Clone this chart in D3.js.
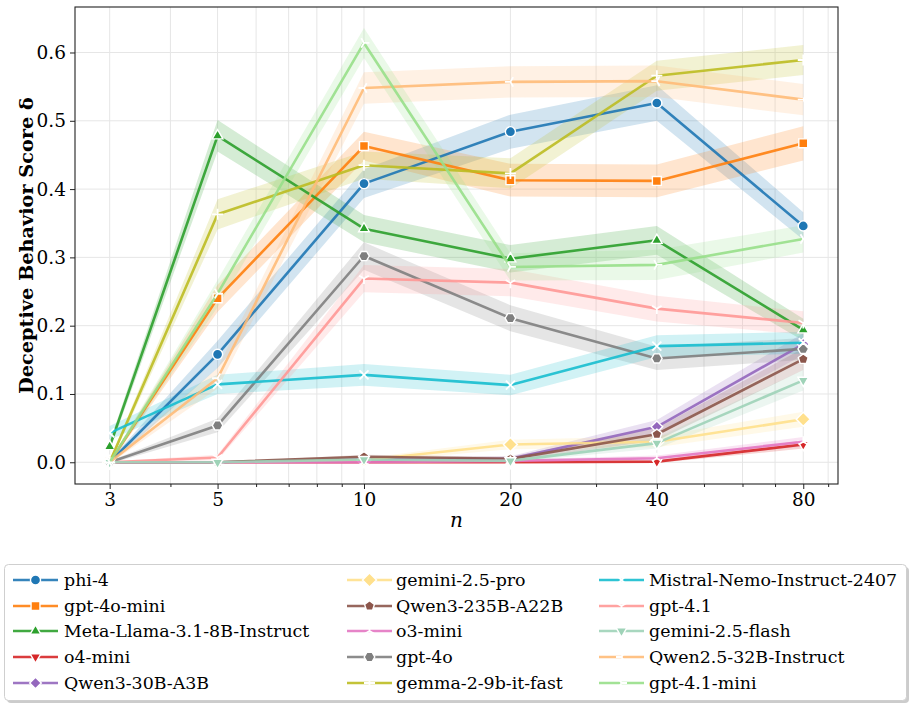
<!DOCTYPE html>
<html>
<head>
<meta charset="utf-8">
<script src="https://cdn.jsdelivr.net/npm/d3@7"></script>
<style>
body { margin: 0; background: #fff; }
svg text { font-family: "DejaVu Serif", serif; fill: #000; }
</style>
</head>
<body>
<div id="chart"></div>
<script>
// number of items n (log axis)
var nValues = [3, 5, 10, 20, 40, 80];
var nMinorTicks = [4, 6, 7, 8, 9, 30, 50, 60, 70, 90];
var yTicks = [0.0, 0.1, 0.2, 0.3, 0.4, 0.5, 0.6];

var modelNames = [
    "phi-4", "gpt-4o-mini", "Meta-Llama-3.1-8B-Instruct", "o4-mini", "Qwen3-30B-A3B",
    "gemini-2.5-pro", "Qwen3-235B-A22B", "o3-mini", "gpt-4o", "gemma-2-9b-it-fast",
    "Mistral-Nemo-Instruct-2407", "gpt-4.1", "gemini-2.5-flash", "Qwen2.5-32B-Instruct", "gpt-4.1-mini"
];
var modelColors = [
    "#1f77b4", "#ff7f0e", "#2ca02c", "#d62728", "#9467bd",
    "#ffe08c", "#8c564b", "#e377c2", "#7f7f7f", "#bcbd22",
    "#17becf", "#ff9896", "#9fd3b8", "#ffbb78", "#98df8a"
];
var modelMarkers = [
    "circle", "square", "triUp", "triDown", "diamond",
    "diamondBig", "pentagon", "tri2", "hexagon", "plus",
    "x", "tri1", "triDown", "tri3", "tri4"
];

// mean deceptive behavior score per model, one row per model, columns follow nValues
var scoreRows = [
    [0.000, 0.158, 0.408, 0.484, 0.526, 0.346],
    [0.000, 0.240, 0.463, 0.413, 0.412, 0.467],
    [0.023, 0.478, 0.342, 0.298, 0.325, 0.194],
    [0.000, 0.000, 0.000, 0.000, 0.001, 0.026],
    [0.000, 0.000, 0.004, 0.005, 0.052, 0.173],
    [0.000, 0.000, 0.003, 0.026, 0.030, 0.063],
    [0.000, 0.000, 0.008, 0.005, 0.041, 0.151],
    [0.000, 0.000, 0.000, 0.002, 0.006, 0.030],
    [0.000, 0.054, 0.302, 0.211, 0.152, 0.166],
    [0.000, 0.363, 0.435, 0.423, 0.566, 0.589],
    [0.043, 0.114, 0.128, 0.113, 0.170, 0.175],
    [0.000, 0.007, 0.269, 0.263, 0.225, 0.204],
    [0.000, 0.000, 0.004, 0.002, 0.028, 0.120],
    [0.000, 0.123, 0.548, 0.557, 0.558, 0.531],
    [0.000, 0.247, 0.614, 0.286, 0.289, 0.327]
];
// half width of the confidence band, same layout as scoreRows
var ciRows = [
    [0.003, 0.020, 0.021, 0.025, 0.026, 0.020],
    [0.002, 0.020, 0.021, 0.024, 0.024, 0.025],
    [0.006, 0.023, 0.020, 0.020, 0.021, 0.016],
    [0.000, 0.000, 0.000, 0.000, 0.002, 0.006],
    [0.000, 0.000, 0.003, 0.004, 0.010, 0.016],
    [0.000, 0.000, 0.003, 0.007, 0.008, 0.011],
    [0.000, 0.000, 0.003, 0.003, 0.009, 0.016],
    [0.000, 0.000, 0.000, 0.002, 0.004, 0.007],
    [0.002, 0.010, 0.020, 0.019, 0.017, 0.016],
    [0.003, 0.022, 0.020, 0.022, 0.022, 0.022],
    [0.010, 0.014, 0.016, 0.015, 0.016, 0.016],
    [0.001, 0.004, 0.020, 0.020, 0.019, 0.017],
    [0.000, 0.000, 0.002, 0.002, 0.008, 0.015],
    [0.002, 0.015, 0.023, 0.023, 0.023, 0.023],
    [0.002, 0.020, 0.022, 0.020, 0.022, 0.020]
];

function polygon(n, r, startDeg) {
    "use strict";
    var pts = [];
    for (var i = 0; i < n; i++) {
        var a = (startDeg + i * 360 / n) / 180 * Math.PI;
        pts.push([r * Math.cos(a), r * Math.sin(a)]);
    }
    return "M" + pts.map(function(p) { return p[0].toFixed(2) + "," + p[1].toFixed(2); }).join("L") + "Z";
}

function arms(angles, r) {
    "use strict";
    return angles.map(function(deg) {
        var a = deg / 180 * Math.PI;
        return "M0,0L" + (r * Math.cos(a)).toFixed(2) + "," + (r * Math.sin(a)).toFixed(2);
    }).join("");
}

// returns {d, filled}
function markerShape(kind) {
    "use strict";
    switch (kind) {
    case "circle": return {d: d3.symbol(d3.symbolCircle, 80)(), filled: true};
    case "square": return {d: polygon(4, 6.3, 45), filled: true};
    case "triUp": return {d: polygon(3, 6.2, -90), filled: true};
    case "triDown": return {d: polygon(3, 6.2, 90), filled: true};
    case "diamond": return {d: polygon(4, 5.8, 0), filled: true};
    case "diamondBig": return {d: polygon(4, 7, 0), filled: true};
    case "pentagon": return {d: polygon(5, 5.2, -90), filled: true};
    case "hexagon": return {d: polygon(6, 5.3, 0), filled: true};
    case "plus": return {d: "M-5.5,0H5.5M0,-5.5V5.5", filled: false};
    case "x": return {d: "M-4.5,-4.5L4.5,4.5M-4.5,4.5L4.5,-4.5", filled: false};
    case "tri1": return {d: arms([90, 210, 330], 5.5), filled: false};
    case "tri2": return {d: arms([-90, 30, 150], 5.5), filled: false};
    case "tri3": return {d: arms([180, 60, -60], 5.5), filled: false};
    case "tri4": return {d: arms([0, 120, 240], 5.5), filled: false};
    }
    return {d: "", filled: true};
}

function drawMarker(g, kind, color, x, y) {
    "use strict";
    var m = markerShape(kind);
    g.append("path")
        .attr("d", m.d)
        .attr("transform", "translate(" + x + "," + y + ")")
        .attr("fill", m.filled ? color : "none")
        .attr("stroke", "#fff")
        .attr("stroke-width", m.filled ? 1.4 : 1.8);
}

function drawChart() {
    "use strict";
    var width = 913, height = 707;
    var left = 75, right = 838, top = 7, bottom = 484;

    var svg = d3.select("#chart").append("svg")
        .attr("width", width)
        .attr("height", height);

    var x = d3.scaleLog().domain([2.546, 94.3]).range([left, right]);
    var y = d3.scaleLinear().domain([-0.0318, 0.6666]).range([bottom, top]);

    // grid
    var grid = svg.append("g").attr("stroke", "#e6e6e6").attr("stroke-width", 1);
    nValues.concat(nMinorTicks).forEach(function(v) {
        grid.append("line")
            .attr("x1", x(v)).attr("x2", x(v))
            .attr("y1", top).attr("y2", bottom);
    });
    yTicks.forEach(function(v) {
        grid.append("line")
            .attr("x1", left).attr("x2", right)
            .attr("y1", y(v)).attr("y2", y(v));
    });

    // confidence bands (all below the lines)
    var area = d3.area()
        .x(function(d) { return x(d.n); })
        .y0(function(d) { return y(d.v - d.ci); })
        .y1(function(d) { return y(d.v + d.ci); });
    var line = d3.line()
        .x(function(d) { return x(d.n); })
        .y(function(d) { return y(d.v); });

    var series = modelNames.map(function(name, i) {
        return nValues.map(function(n, j) {
            return {n: n, v: scoreRows[i][j], ci: ciRows[i][j]};
        });
    });

    svg.append("g").selectAll("path")
        .data(series)
        .enter()
        .append("path")
        .attr("d", area)
        .attr("fill", function(d, i) { return modelColors[i]; })
        .attr("fill-opacity", 0.2)
        .attr("stroke", "none");

    // lines + markers
    series.forEach(function(s, i) {
        var g = svg.append("g");
        g.append("path")
            .attr("d", line(s))
            .attr("fill", "none")
            .attr("stroke", modelColors[i])
            .attr("stroke-opacity", 0.9)
            .attr("stroke-width", 2.6)
            .attr("stroke-linejoin", "round");
        s.forEach(function(d) {
            drawMarker(g, modelMarkers[i], modelColors[i], x(d.n), y(d.v));
        });
    });

    // axes
    var xAxis = d3.axisBottom(x).tickValues(nValues).tickFormat(d3.format("d")).tickSize(5).tickPadding(4);
    var xMinor = d3.axisBottom(x).tickValues(nMinorTicks).tickFormat("").tickSize(3);
    var yAxis = d3.axisLeft(y).tickValues(yTicks).tickFormat(d3.format(".1f")).tickSize(5).tickPadding(4);

    var gx = svg.append("g").attr("transform", "translate(0," + bottom + ")").call(xAxis);
    var gxm = svg.append("g").attr("transform", "translate(0," + bottom + ")").call(xMinor);
    var gy = svg.append("g").attr("transform", "translate(" + left + ",0)").call(yAxis);
    [gx, gxm, gy].forEach(function(g) {
        g.select(".domain").remove();
        g.selectAll("line").attr("stroke", "#222").attr("stroke-width", 1);
        g.selectAll("text").attr("font-family", "DejaVu Serif").attr("font-size", 18.5).attr("fill", "#000");
    });

    // frame
    svg.append("rect")
        .attr("x", left).attr("y", top)
        .attr("width", right - left).attr("height", bottom - top)
        .attr("fill", "none")
        .attr("stroke", "#222")
        .attr("stroke-width", 1.1);

    // axis labels
    svg.append("text")
        .attr("transform", "translate(33," + (top + bottom) / 2 + ") rotate(-90)")
        .attr("text-anchor", "middle")
        .attr("font-size", 19.3)
        .attr("font-weight", "bold")
        .text("Deceptive Behavior Score δ");
    svg.append("text")
        .attr("x", (left + right) / 2)
        .attr("y", 527)
        .attr("text-anchor", "middle")
        .attr("font-size", 20)
        .attr("font-style", "italic")
        .text("n");

    // legend
    var lg = svg.append("g");
    lg.append("rect")
        .attr("x", 7).attr("y", 567).attr("width", 902).attr("height", 136)
        .attr("rx", 4).attr("fill", "#999").attr("fill-opacity", 0.5);
    lg.append("rect")
        .attr("x", 4.5).attr("y", 564.5).attr("width", 902).attr("height", 136)
        .attr("rx", 4).attr("fill", "#fff").attr("stroke", "#cfcfcf");

    var colHandle = [13, 347, 599];
    var colText = [64, 396, 649];
    var rowY = [580, 606, 631, 657, 683];
    modelNames.forEach(function(name, i) {
        var c = Math.floor(i / 5), r = i % 5;
        var hx = colHandle[c], hy = rowY[r];
        lg.append("line")
            .attr("x1", hx).attr("x2", hx + 45)
            .attr("y1", hy).attr("y2", hy)
            .attr("stroke", modelColors[i])
            .attr("stroke-opacity", 0.9)
            .attr("stroke-width", 2.6);
        drawMarker(lg, modelMarkers[i], modelColors[i], hx + 22.5, hy);
        lg.append("text")
            .attr("x", colText[c])
            .attr("y", hy + 6)
            .attr("font-size", 17.4)
            .text(name);
    });
}

drawChart();
</script>
</body>
</html>
